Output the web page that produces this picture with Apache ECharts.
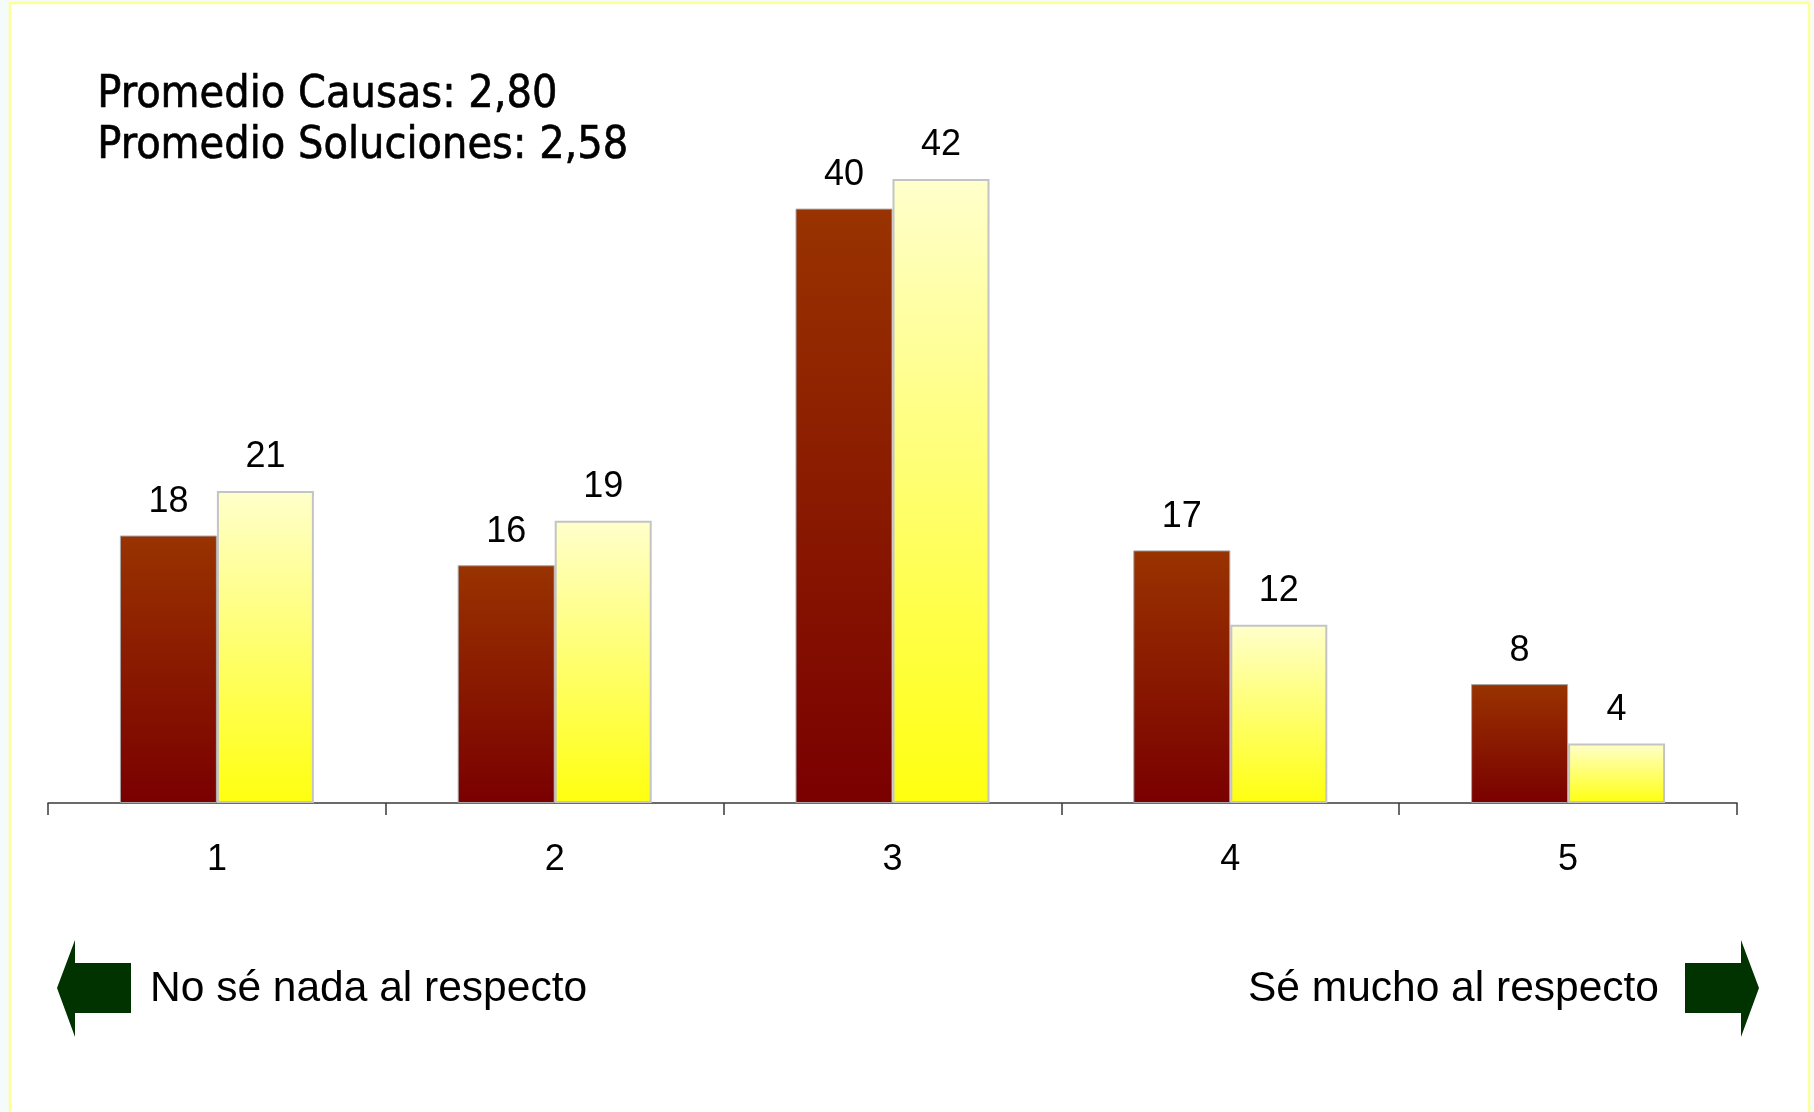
<!DOCTYPE html>
<html>
<head>
<meta charset="utf-8">
<script src="https://cdn.jsdelivr.net/npm/echarts@6/dist/echarts.min.js"></script>
<style>
html,body{margin:0;padding:0;background:#f4fbfa;}
#c{width:1814px;height:1112px;}
</style>
</head>
<body>
<div id="c"></div>
<script>
const categories = ['1', '2', '3', '4', '5'];
const causas = [18, 16, 40, 17, 8];
const soluciones = [21, 19, 42, 12, 4];
const promedioLines = ['Promedio Causas: 2,80', 'Promedio Soluciones: 2,58'];
const leftNote = 'No sé nada al respecto';
const rightNote = 'Sé mucho al respecto';

const chart = echarts.init(document.getElementById('c'), null, {renderer: 'canvas'});

const labelStyle = {
  show: true, position: 'top', distance: 15.5,
  fontFamily: 'Liberation Sans, Arial, sans-serif', fontSize: 36, color: '#000'
};

const option = {
  backgroundColor: '#f4fbfa',
  animation: false,
  grid: {left: 48, right: 77, top: 60, bottom: 309},
  xAxis: {
    type: 'category', data: categories,
    axisLine: {show: true, lineStyle: {color: '#3a3a3a', width: 1.5}},
    axisTick: {show: true, length: 12, lineStyle: {color: '#3a3a3a', width: 1.5}},
    axisLabel: {margin: 39, fontFamily: 'Liberation Sans, Arial, sans-serif', fontSize: 36, color: '#000'}
  },
  yAxis: {
    type: 'value', min: 0, max: 50, show: false,
    splitLine: {show: false}
  },
  series: [
    {
      name: 'Causas', type: 'bar', data: causas, barWidth: 97, barGap: '0%',
      itemStyle: {
        color: new echarts.graphic.LinearGradient(0, 0, 0, 1, [
          {offset: 0, color: '#993300'}, {offset: 1, color: '#7a0000'}
        ]),
        borderColor: '#a8a8a8', borderWidth: 1
      },
      label: labelStyle
    },
    {
      name: 'Soluciones', type: 'bar', data: soluciones, barWidth: 97,
      itemStyle: {
        color: new echarts.graphic.LinearGradient(0, 0, 0, 1, [
          {offset: 0, color: '#ffffcc'}, {offset: 1, color: '#ffff10'}
        ]),
        borderColor: '#c4c4c4', borderWidth: 2
      },
      label: labelStyle
    }
  ],
  graphic: [
    {type: 'rect', z: -10, silent: true,
     shape: {x: 10, y: 3, width: 1799, height: 1130},
     style: {fill: '#ffffff', stroke: '#ffff99', lineWidth: 2.5}},
    {type: 'text', left: 97, top: 73, z: 10,
     style: {text: promedioLines[0], fontFamily: 'DejaVu Sans Condensed, DejaVu Sans, sans-serif', fontSize: 44.5, fill: '#000', stroke: '#000', lineWidth: 0.6}},
    {type: 'text', left: 97, top: 124, z: 10,
     style: {text: promedioLines[1], fontFamily: 'DejaVu Sans Condensed, DejaVu Sans, sans-serif', fontSize: 44.5, fill: '#000', stroke: '#000', lineWidth: 0.6}},
    {type: 'polygon', z: 10,
     shape: {points: [[57, 988], [75, 940], [75, 963], [131, 963], [131, 1013], [75, 1013], [75, 1037]]},
     style: {fill: '#003300'}},
    {type: 'polygon', z: 10,
     shape: {points: [[1759, 988], [1741, 940], [1741, 963], [1685, 963], [1685, 1013], [1741, 1013], [1741, 1037]]},
     style: {fill: '#003300'}},
    {type: 'text', z: 10, x: 150, y: 989,
     style: {text: leftNote, fontFamily: 'Liberation Sans, Arial, sans-serif', fontSize: 42.5, fill: '#000', align: 'left', verticalAlign: 'middle'}},
    {type: 'text', z: 10, x: 1659, y: 989,
     style: {text: rightNote, fontFamily: 'Liberation Sans, Arial, sans-serif', fontSize: 42.5, fill: '#000', align: 'right', verticalAlign: 'middle'}}
  ]
};
chart.setOption(option);
</script>
</body>
</html>
